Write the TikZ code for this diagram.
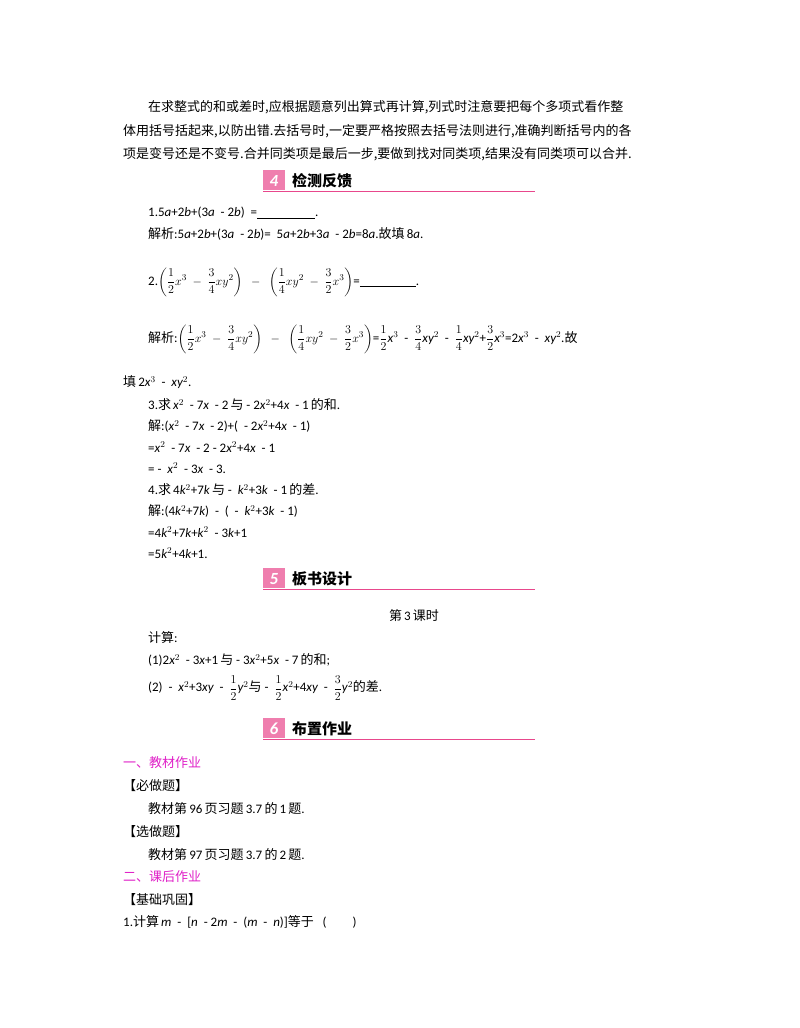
\documentclass[tikz,border=0pt]{standalone}
\usepackage{amsmath}
\usepackage{fontspec}
\setmainfont{Noto Sans CJK SC}
\newfontfamily\lt{Carlito}
\newcommand{\LL}[1]{{\lt #1}}
\newcommand{\II}[1]{{\lt\itshape #1}}
\definecolor{pinkc}{HTML}{E8478C}
\definecolor{mag}{HTML}{E020C8}
\tikzset{tx/.style={anchor=west,inner sep=0pt,font=\fontsize{13}{15}\selectfont}}
\newcommand{\sechdr}[4]{%
  \fill[pinkc!70] (263,#1-11) rectangle (285,#1+9);
  \node[anchor=center,text=white,font=\lt\bfseries\itshape\fontsize{17}{17}\selectfont] (#4n) at (274,#1) {#2};
  \node[tx,anchor=west,font=\bfseries\fontsize{15}{17}\selectfont] (#4t) at (292,#1) {#3};
  \draw[pinkc,line width=0.7pt] (263,#1+10) -- (535,#1+10);}
\begin{document}
\begin{tikzpicture}[x=1pt,y=-1pt]
\useasboundingbox (0,0) rectangle (800,1028);
\fill[white] (0,0) rectangle (800,1028);
\node[tx] (p1) at (148,107) {在求整式的和或差时,应根据题意列出算式再计算,列式时注意要把每个多项式看作整};
\node[tx] (p2) at (123,131) {体用括号括起来,以防出错.去括号时,一定要严格按照去括号法则进行,准确判断括号内的各};
\node[tx] (p3) at (123,154) {项是变号还是不变号.合并同类项是最后一步,要做到找对同类项,结果没有同类项可以合并.};
\sechdr{181}{4}{检测反馈}{h4}
\node[tx] (q1) at (148,213) {\LL{1.5}\II{a}\LL{+2}\II{b}\LL{+(3}\II{a}\LL{\ \ - 2}\II{b}\LL{)\ \ =\underline{\hspace{58pt}}.}};
\node[tx] (a1) at (148,234) {解析\LL{:5}\II{a}\LL{+2}\II{b}\LL{+(3}\II{a}\LL{\ \ - 2}\II{b}\LL{)=\ \ 5}\II{a}\LL{+2}\II{b}\LL{+3}\II{a}\LL{\ \ - 2}\II{b}\LL{=8}\II{a}\LL{.}故填\,\LL{8}\II{a}\LL{.}};
\node[tx] (q2) at (148,282) {\LL{2.}$\left(\dfrac{1}{2}x^3\ -\ \dfrac{3}{4}xy^2\right)\ \ -\ \ \left(\dfrac{1}{4}xy^2\ -\ \dfrac{3}{2}x^3\right)$\LL{=\underline{\hspace{56pt}}.}};
\node[tx] (a2) at (148,339) {解析\LL{:}$\left(\dfrac{1}{2}x^3\ -\ \dfrac{3}{4}xy^2\right)\ \ -\ \ \left(\dfrac{1}{4}xy^2\ -\ \dfrac{3}{2}x^3\right)$\LL{=}$\dfrac{1}{2}$\II{x}\LL{$^3$\ \ -\ \ }$\dfrac{3}{4}$\II{xy}\LL{$^2$\ \ -\ \ }$\dfrac{1}{4}$\II{xy}\LL{$^2$+}$\dfrac{3}{2}$\II{x}\LL{$^3$=2}\II{x}\LL{$^3$\ \ -\ \ }\II{xy}\LL{$^2$.}故};
\node[tx] (a2b) at (123,382) {填\,\LL{2}\II{x}\LL{$^3$\ \ -\ \ }\II{xy}\LL{$^2$.}};
\node[tx] (q3) at (148,405) {\LL{3.}求\,\II{x}\LL{$^2$\ \ - 7}\II{x}\LL{\ \ - 2\,}与\ \LL{- 2}\II{x}\LL{$^2$+4}\II{x}\LL{\ \ - 1\,}的和\LL{.}};
\node[tx] (s3a) at (148,426) {解\LL{:(}\II{x}\LL{$^2$\ \ - 7}\II{x}\LL{\ \ - 2)+(\ \ - 2}\II{x}\LL{$^2$+4}\II{x}\LL{\ \ - 1)}};
\node[tx] (s3b) at (148,447) {\LL{=}\II{x}\LL{$^2$\ \ - 7}\II{x}\LL{\ \ - 2 - 2}\II{x}\LL{$^2$+4}\II{x}\LL{\ \ - 1}};
\node[tx] (s3c) at (148,468) {\LL{= -\ \ }\II{x}\LL{$^2$\ \ - 3}\II{x}\LL{\ \ - 3.}};
\node[tx] (q4) at (148,490) {\LL{4.}求\,\LL{4}\II{k}\LL{$^2$+7}\II{k}\,与\ \LL{-\ \ }\II{k}\LL{$^2$+3}\II{k}\LL{\ \ - 1\,}的差\LL{.}};
\node[tx] (s4a) at (148,511) {解\LL{:(4}\II{k}\LL{$^2$+7}\II{k}\LL{)\ \ -\ \ (\ \ -\ \ }\II{k}\LL{$^2$+3}\II{k}\LL{\ \ - 1)}};
\node[tx] (s4b) at (148,532) {\LL{=4}\II{k}\LL{$^2$+7}\II{k}\LL{+}\II{k}\LL{$^2$\ \ - 3}\II{k}\LL{+1}};
\node[tx] (s4c) at (148,553) {\LL{=5}\II{k}\LL{$^2$+4}\II{k}\LL{+1.}};
\sechdr{579}{5}{板书设计}{h5}
\node[tx,anchor=center] (ks) at (414,616) {第\,\LL{3}\,课时};
\node[tx] (js) at (148,638) {计算\LL{:}};
\node[tx] (c1) at (148,660) {\LL{(1)2}\II{x}\LL{$^2$\ \ - 3}\II{x}\LL{+1\,}与\ \LL{- 3}\II{x}\LL{$^2$+5}\II{x}\LL{\ \ - 7\,}的和\LL{;}};
\node[tx] (c2) at (148,688) {\LL{(2)\ \ -\ \ }\II{x}\LL{$^2$+3}\II{xy}\LL{\ \ -\ \ }$\dfrac{1}{2}$\II{y}\LL{$^2$}与\ \LL{-\ \ }$\dfrac{1}{2}$\II{x}\LL{$^2$+4}\II{xy}\LL{\ \ -\ \ }$\dfrac{3}{2}$\II{y}\LL{$^2$}的差\LL{.}};
\sechdr{729}{6}{布置作业}{h6}
\node[tx,text=mag] (w1) at (123,763) {一、教材作业};
\node[tx] (b1) at (123,786) {【必做题】};
\node[tx] (b1t) at (148,809) {教材第\,\LL{96}\,页习题\,\LL{3.7}\,的\,\LL{1}\,题\LL{.}};
\node[tx] (b2) at (123,832) {【选做题】};
\node[tx] (b2t) at (148,855) {教材第\,\LL{97}\,页习题\,\LL{3.7}\,的\,\LL{2}\,题\LL{.}};
\node[tx,text=mag] (w2) at (123,877) {二、课后作业};
\node[tx] (b3) at (123,900) {【基础巩固】};
\node[tx] (e1) at (123,922) {\LL{1.}计算\,\II{m}\LL{\ \ -\ \ [}\II{n}\LL{\ \ - 2}\II{m}\LL{\ \ -\ \ (}\II{m}\LL{\ \ -\ \ }\II{n}\LL{)]}等于\ \ \ \LL{(\qquad)}};
\end{tikzpicture}
\end{document}
